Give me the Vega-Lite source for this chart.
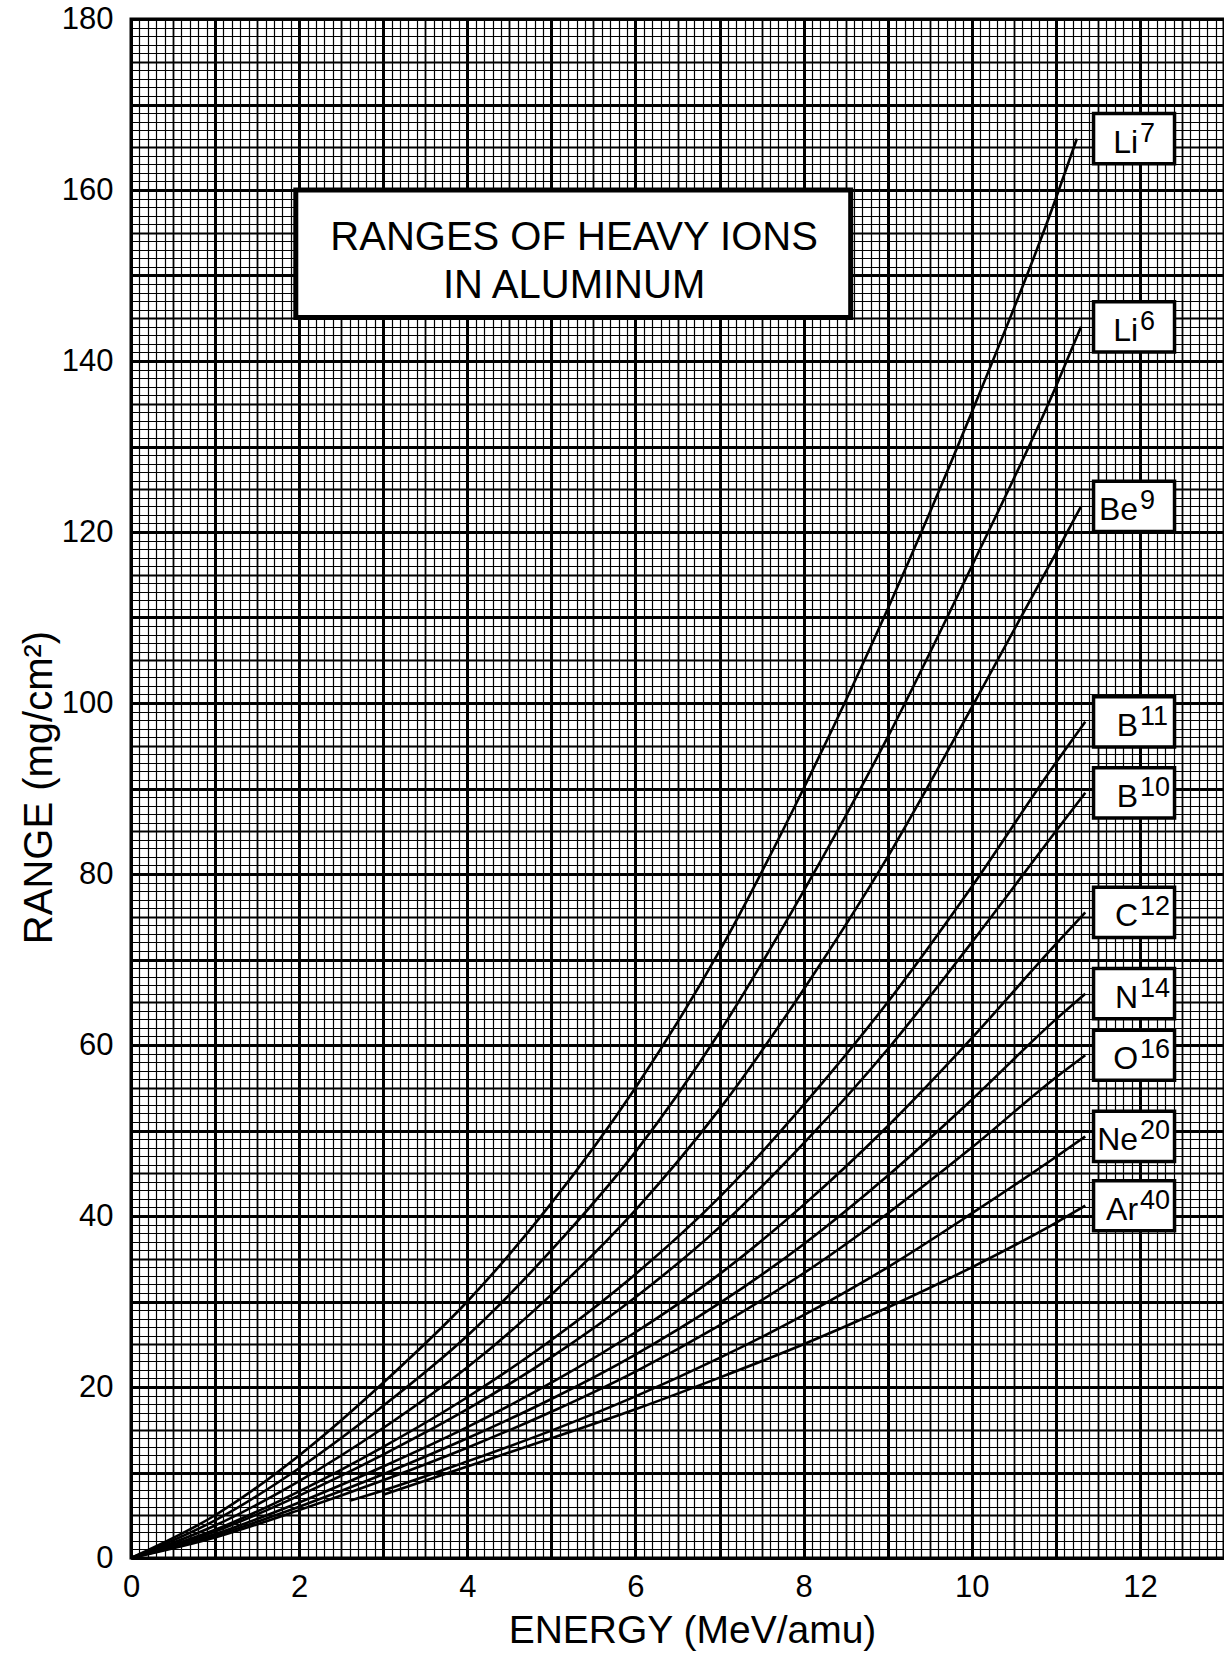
{
  "$schema": "https://vega.github.io/schema/vega-lite/v6.json",
  "width": 1093,
  "height": 1539,
  "autosize": {"type": "none"},
  "padding": {"left": 131, "top": 19, "right": 0, "bottom": 99},
  "background": "white",
  "config": {
    "view": {"stroke": "black", "strokeWidth": 3},
    "font": "Liberation Sans"
  },
  "datasets": {
    "ranges": [
      {"ion": "Li7", "e": 0, "r": 0}, {"ion": "Li7", "e": 1, "r": 5}, {"ion": "Li7", "e": 2, "r": 12}, {"ion": "Li7", "e": 3, "r": 20.5}, {"ion": "Li7", "e": 4, "r": 30}, {"ion": "Li7", "e": 5, "r": 41.5}, {"ion": "Li7", "e": 6, "r": 55}, {"ion": "Li7", "e": 7, "r": 71}, {"ion": "Li7", "e": 8, "r": 90}, {"ion": "Li7", "e": 9, "r": 111}, {"ion": "Li7", "e": 10, "r": 134}, {"ion": "Li7", "e": 11, "r": 159}, {"ion": "Li7", "e": 11.25, "r": 166},
      {"ion": "Li6", "e": 0, "r": 0}, {"ion": "Li6", "e": 1, "r": 4.4}, {"ion": "Li6", "e": 2, "r": 10.5}, {"ion": "Li6", "e": 3, "r": 17.8}, {"ion": "Li6", "e": 4, "r": 26}, {"ion": "Li6", "e": 5, "r": 36}, {"ion": "Li6", "e": 6, "r": 47.5}, {"ion": "Li6", "e": 7, "r": 61.5}, {"ion": "Li6", "e": 8, "r": 78}, {"ion": "Li6", "e": 9, "r": 96}, {"ion": "Li6", "e": 10, "r": 116}, {"ion": "Li6", "e": 11, "r": 137}, {"ion": "Li6", "e": 11.3, "r": 144},
      {"ion": "Be9", "e": 0, "r": 0}, {"ion": "Be9", "e": 1, "r": 3.8}, {"ion": "Be9", "e": 2, "r": 9}, {"ion": "Be9", "e": 3, "r": 15.2}, {"ion": "Be9", "e": 4, "r": 22.3}, {"ion": "Be9", "e": 5, "r": 30.8}, {"ion": "Be9", "e": 6, "r": 40.7}, {"ion": "Be9", "e": 7, "r": 52.5}, {"ion": "Be9", "e": 8, "r": 66.5}, {"ion": "Be9", "e": 9, "r": 82}, {"ion": "Be9", "e": 10, "r": 99.5}, {"ion": "Be9", "e": 11, "r": 117.5}, {"ion": "Be9", "e": 11.3, "r": 123},
      {"ion": "B11", "e": 0, "r": 0}, {"ion": "B11", "e": 1, "r": 3.3}, {"ion": "B11", "e": 2, "r": 7.8}, {"ion": "B11", "e": 3, "r": 13}, {"ion": "B11", "e": 4, "r": 18.8}, {"ion": "B11", "e": 5, "r": 25.5}, {"ion": "B11", "e": 6, "r": 33.2}, {"ion": "B11", "e": 7, "r": 42.2}, {"ion": "B11", "e": 8, "r": 53}, {"ion": "B11", "e": 9, "r": 65}, {"ion": "B11", "e": 10, "r": 78.5}, {"ion": "B11", "e": 11, "r": 93}, {"ion": "B11", "e": 11.35, "r": 97.8},
      {"ion": "B10", "e": 0, "r": 0}, {"ion": "B10", "e": 1, "r": 3.1}, {"ion": "B10", "e": 2, "r": 7.3}, {"ion": "B10", "e": 3, "r": 12.1}, {"ion": "B10", "e": 4, "r": 17.4}, {"ion": "B10", "e": 5, "r": 23.5}, {"ion": "B10", "e": 6, "r": 30.5}, {"ion": "B10", "e": 7, "r": 38.7}, {"ion": "B10", "e": 8, "r": 48.5}, {"ion": "B10", "e": 9, "r": 59.5}, {"ion": "B10", "e": 10, "r": 72}, {"ion": "B10", "e": 11, "r": 85}, {"ion": "B10", "e": 11.35, "r": 89.5},
      {"ion": "C12", "e": 0, "r": 0}, {"ion": "C12", "e": 1, "r": 2.8}, {"ion": "C12", "e": 2, "r": 6.5}, {"ion": "C12", "e": 3, "r": 10.7}, {"ion": "C12", "e": 4, "r": 15.3}, {"ion": "C12", "e": 5, "r": 20.5}, {"ion": "C12", "e": 6, "r": 26.4}, {"ion": "C12", "e": 7, "r": 33.2}, {"ion": "C12", "e": 8, "r": 41.3}, {"ion": "C12", "e": 9, "r": 50.5}, {"ion": "C12", "e": 10, "r": 60.8}, {"ion": "C12", "e": 11, "r": 71.8}, {"ion": "C12", "e": 11.35, "r": 75.5},
      {"ion": "N14", "e": 0, "r": 0}, {"ion": "N14", "e": 1, "r": 2.6}, {"ion": "N14", "e": 2, "r": 6}, {"ion": "N14", "e": 3, "r": 9.8}, {"ion": "N14", "e": 4, "r": 14}, {"ion": "N14", "e": 5, "r": 18.6}, {"ion": "N14", "e": 6, "r": 23.8}, {"ion": "N14", "e": 7, "r": 29.8}, {"ion": "N14", "e": 8, "r": 36.7}, {"ion": "N14", "e": 9, "r": 44.7}, {"ion": "N14", "e": 10, "r": 53.6}, {"ion": "N14", "e": 11, "r": 63}, {"ion": "N14", "e": 11.35, "r": 66},
      {"ion": "O16", "e": 0, "r": 0}, {"ion": "O16", "e": 1, "r": 2.4}, {"ion": "O16", "e": 2, "r": 5.6}, {"ion": "O16", "e": 3, "r": 9.1}, {"ion": "O16", "e": 4, "r": 12.9}, {"ion": "O16", "e": 5, "r": 17.1}, {"ion": "O16", "e": 6, "r": 21.8}, {"ion": "O16", "e": 7, "r": 27.2}, {"ion": "O16", "e": 8, "r": 33.3}, {"ion": "O16", "e": 9, "r": 40.3}, {"ion": "O16", "e": 10, "r": 48}, {"ion": "O16", "e": 11, "r": 56.2}, {"ion": "O16", "e": 11.35, "r": 58.8},
      {"ion": "Ne20", "e": 2.6, "r": 6.7}, {"ion": "Ne20", "e": 3, "r": 7.9}, {"ion": "Ne20", "e": 4, "r": 11.3}, {"ion": "Ne20", "e": 5, "r": 14.9}, {"ion": "Ne20", "e": 6, "r": 18.9}, {"ion": "Ne20", "e": 7, "r": 23.4}, {"ion": "Ne20", "e": 8, "r": 28.4}, {"ion": "Ne20", "e": 9, "r": 34}, {"ion": "Ne20", "e": 10, "r": 40.3}, {"ion": "Ne20", "e": 11, "r": 46.9}, {"ion": "Ne20", "e": 11.35, "r": 49.3},
      {"ion": "Ar40", "e": 3, "r": 7.4}, {"ion": "Ar40", "e": 4, "r": 10.7}, {"ion": "Ar40", "e": 5, "r": 14}, {"ion": "Ar40", "e": 6, "r": 17.4}, {"ion": "Ar40", "e": 7, "r": 21.1}, {"ion": "Ar40", "e": 8, "r": 25}, {"ion": "Ar40", "e": 9, "r": 29.3}, {"ion": "Ar40", "e": 10, "r": 34}, {"ion": "Ar40", "e": 11, "r": 39.2}, {"ion": "Ar40", "e": 11.35, "r": 41.2}
    ],
    "ions": [
      {"ion": "Li7", "sym": "Li", "mass": "7", "r": 166},
      {"ion": "Li6", "sym": "Li", "mass": "6", "r": 144},
      {"ion": "Be9", "sym": "Be", "mass": "9", "r": 123},
      {"ion": "B11", "sym": "B", "mass": "11", "r": 97.8},
      {"ion": "B10", "sym": "B", "mass": "10", "r": 89.5},
      {"ion": "C12", "sym": "C", "mass": "12", "r": 75.5},
      {"ion": "N14", "sym": "N", "mass": "14", "r": 66},
      {"ion": "O16", "sym": "O", "mass": "16", "r": 58.8},
      {"ion": "Ne20", "sym": "Ne", "mass": "20", "r": 49.3},
      {"ion": "Ar40", "sym": "Ar", "mass": "40", "r": 41.2}
    ]
  },
  "layer": [
    {
      "data": {"name": "ranges"},
      "mark": {"type": "line", "color": "black", "strokeWidth": 2.6, "interpolate": "monotone"},
      "encoding": {
        "x": {
          "field": "e", "type": "quantitative",
          "scale": {"domain": [0, 13], "nice": false, "zero": false},
          "axis": {
            "tickCount": 130,
            "grid": true,
            "gridColor": "#000000",
            "gridOpacity": 1,
            "gridWidth": {
              "condition": [
                {"test": "abs(datum.value - round(datum.value)) < 0.000001", "value": 3},
                {"test": "abs(2 * datum.value - round(2 * datum.value)) < 0.000001", "value": 1.8}
              ],
              "value": 1.2
            },
            "ticks": false,
            "domain": false,
            "labelExpr": "abs(datum.value / 2 - round(datum.value / 2)) < 0.000001 ? format(round(datum.value), 'd') : ''",
            "labelFont": "Liberation Sans",
            "labelFontSize": 31,
            "labelColor": "black",
            "labelPadding": 14,
            "labelFlush": false,
            "labelOverlap": false,
            "labelBound": false,
            "title": "ENERGY (MeV/amu)",
            "titleFont": "Liberation Sans",
            "titleFontSize": 39,
            "titleFontWeight": "normal",
            "titleColor": "black",
            "titleX": 561,
            "titleY": 84,
            "titleBaseline": "alphabetic",
            "titleAlign": "center"
          }
        },
        "y": {
          "field": "r", "type": "quantitative",
          "scale": {"domain": [0, 180], "nice": false, "zero": false},
          "axis": {
            "tickCount": 180,
            "grid": true,
            "gridColor": "#000000",
            "gridOpacity": 1,
            "gridWidth": {
              "condition": [
                {"test": "abs(datum.value / 10 - round(datum.value / 10)) < 0.000001", "value": 3},
                {"test": "abs(datum.value / 5 - round(datum.value / 5)) < 0.000001", "value": 1.8}
              ],
              "value": 1.2
            },
            "ticks": false,
            "domain": false,
            "labelExpr": "abs(datum.value / 20 - round(datum.value / 20)) < 0.000001 ? format(round(datum.value), 'd') : ''",
            "labelFont": "Liberation Sans",
            "labelFontSize": 31,
            "labelColor": "black",
            "labelPadding": 18,
            "labelFlush": false,
            "labelOverlap": false,
            "labelBound": false,
            "title": "RANGE (mg/cm²)",
            "titleFont": "Liberation Sans",
            "titleFontSize": 40,
            "titleFontWeight": "normal",
            "titleColor": "black",
            "titleAngle": 270,
            "titleX": -80,
            "titleY": 768,
            "titleBaseline": "alphabetic",
            "titleAlign": "center"
          }
        },
        "detail": {"field": "ion"}
      }
    },
    {
      "data": {"values": [{}]},
      "mark": {"type": "rect", "fill": "white", "stroke": "black", "strokeWidth": 5},
      "encoding": {
        "x": {"datum": 1.96, "type": "quantitative", "scale": {"domain": [0, 13], "nice": false, "zero": false}},
        "x2": {"datum": 8.56},
        "y": {"datum": 160, "type": "quantitative", "scale": {"domain": [0, 180], "nice": false, "zero": false}},
        "y2": {"datum": 145.1}
      }
    },
    {
      "data": {"values": [{}]},
      "mark": {"type": "text", "text": "RANGES OF HEAVY IONS", "font": "Liberation Sans", "fontSize": 40, "color": "black", "align": "center", "baseline": "alphabetic"},
      "encoding": {
        "x": {"datum": 5.27, "type": "quantitative", "scale": {"domain": [0, 13], "nice": false, "zero": false}},
        "y": {"datum": 153.0, "type": "quantitative", "scale": {"domain": [0, 180], "nice": false, "zero": false}}
      }
    },
    {
      "data": {"values": [{}]},
      "mark": {"type": "text", "text": "IN ALUMINUM", "font": "Liberation Sans", "fontSize": 40, "color": "black", "align": "center", "baseline": "alphabetic"},
      "encoding": {
        "x": {"datum": 5.27, "type": "quantitative", "scale": {"domain": [0, 13], "nice": false, "zero": false}},
        "y": {"datum": 147.4, "type": "quantitative", "scale": {"domain": [0, 180], "nice": false, "zero": false}}
      }
    },
    {
      "data": {"name": "ions"},
      "mark": {"type": "point", "shape": "M -1 -0.62 L 1 -0.62 L 1 0.62 L -1 0.62 Z", "size": 6561, "filled": true, "fill": "white", "fillOpacity": 1, "stroke": "black", "strokeWidth": 3.5, "strokeOpacity": 1, "opacity": 1},
      "encoding": {
        "x": {"datum": 11.93, "type": "quantitative", "scale": {"domain": [0, 13], "nice": false, "zero": false}},
        "y": {"field": "r", "type": "quantitative", "scale": {"domain": [0, 180], "nice": false, "zero": false}}
      }
    },
    {
      "data": {"name": "ions"},
      "mark": {"type": "text", "font": "Liberation Sans", "fontSize": 32, "color": "black", "align": "right", "baseline": "alphabetic", "dx": -1, "dy": 14},
      "encoding": {
        "x": {"datum": 11.99, "type": "quantitative", "scale": {"domain": [0, 13], "nice": false, "zero": false}},
        "y": {"field": "r", "type": "quantitative", "scale": {"domain": [0, 180], "nice": false, "zero": false}},
        "text": {"field": "sym"}
      }
    },
    {
      "data": {"name": "ions"},
      "mark": {"type": "text", "font": "Liberation Sans", "fontSize": 27, "color": "black", "align": "left", "baseline": "alphabetic", "dx": 1, "dy": 3},
      "encoding": {
        "x": {"datum": 11.99, "type": "quantitative", "scale": {"domain": [0, 13], "nice": false, "zero": false}},
        "y": {"field": "r", "type": "quantitative", "scale": {"domain": [0, 180], "nice": false, "zero": false}},
        "text": {"field": "mass"}
      }
    }
  ]
}
